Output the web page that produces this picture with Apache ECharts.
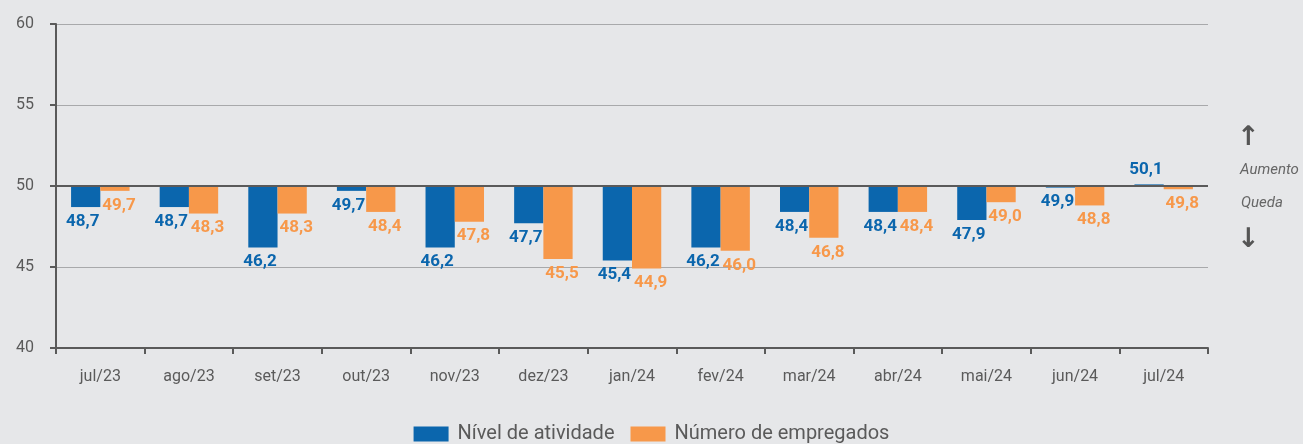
<!DOCTYPE html>
<html>
<head>
<meta charset="utf-8">
<script src="https://cdn.jsdelivr.net/npm/echarts@6/dist/echarts.min.js"></script>
<style>
  html, body { margin: 0; padding: 0; background: #e6e7e9; }
  #chart { width: 1303px; height: 444px; }
</style>
</head>
<body>
<div id="chart"></div>
<script>
const months = ['jul/23', 'ago/23', 'set/23', 'out/23', 'nov/23', 'dez/23', 'jan/24', 'fev/24', 'mar/24', 'abr/24', 'mai/24', 'jun/24', 'jul/24']
const nivelAtividade = [48.7, 48.7, 46.2, 49.7, 46.2, 47.7, 45.4, 46.2, 48.4, 48.4, 47.9, 49.9, 50.1]
const numeroEmpregados = [49.7, 48.3, 48.3, 48.4, 47.8, 45.5, 44.9, 46.0, 46.8, 48.4, 49.0, 48.8, 49.8]
const yTicks = [40, 45, 50, 55, 60]

const BASELINE = 50
const BLUE = '#0b66ad'
const ORANGE = '#f7984a'
const TEXT = '#5a5a5a'
const FONT = 'Roboto, "Noto Sans", sans-serif'

const fmt = v => v.toFixed(1).replace('.', ',')

// bars hang from the 50 line: a transparent base plus the visible part, stacked
const baseOf = values => values.map(v => Math.min(v, BASELINE))
const spanOf = values => values.map(v => Math.abs(v - BASELINE))

function visibleSeries(name, stack, values, color, dx) {
  return {
    name,
    type: 'bar',
    stack,
    barWidth: '33%',
    barGap: '0%',
    itemStyle: { color },
    data: spanOf(values).map((d, i) => ({
      value: d,
      label: {
        position: values[i] >= BASELINE ? 'top' : 'bottom'
      }
    })),
    label: {
      show: true,
      distance: 6,
      offset: [dx, 0],
      color,
      fontFamily: FONT,
      fontWeight: 'bold',
      fontSize: 17,
      formatter: p => fmt(values[p.dataIndex])
    }
  }
}

function baseSeries(stack, values) {
  return {
    type: 'bar',
    stack,
    barWidth: '33%',
    barGap: '0%',
    silent: true,
    itemStyle: { color: 'transparent' },
    data: baseOf(values)
  }
}

const chart = echarts.init(document.getElementById('chart'), undefined, { renderer: 'canvas' })

chart.setOption({
  animation: false,
  backgroundColor: '#e6e7e9',
  textStyle: { fontFamily: FONT, color: TEXT },
  grid: { left: 56, right: 95, top: 24, bottom: 96 },
  legend: {
    top: 419,
    left: 'center',
    itemWidth: 35,
    itemHeight: 15,
    itemGap: 16,
    icon: 'rect',
    data: ['Nível de atividade', 'Número de empregados'],
    textStyle: { fontSize: 20, color: TEXT, fontFamily: FONT, padding: [0, 0, 0, 4] }
  },
  xAxis: {
    type: 'category',
    data: months,
    axisLine: { lineStyle: { color: '#5a5a5a', width: 2 } },
    axisTick: { show: true, length: 6, lineStyle: { color: '#5a5a5a', width: 2 } },
    axisLabel: { color: TEXT, fontSize: 16, margin: 21, fontFamily: FONT }
  },
  yAxis: {
    type: 'value',
    min: yTicks[0],
    max: yTicks[yTicks.length - 1],
    interval: 5,
    axisLine: { show: true, lineStyle: { color: '#5a5a5a', width: 2 } },
    axisTick: { show: true, length: 6, lineStyle: { color: '#5a5a5a', width: 2 } },
    axisLabel: { color: TEXT, fontSize: 16, margin: 22, fontFamily: FONT },
    splitLine: { lineStyle: { color: '#a8a9ab', width: 1 } }
  },
  series: [
    baseSeries('nivel', nivelAtividade),
    visibleSeries('Nível de atividade', 'nivel', nivelAtividade, BLUE, -3),
    baseSeries('emp', numeroEmpregados),
    Object.assign(visibleSeries('Número de empregados', 'emp', numeroEmpregados, ORANGE, 4), {
      markLine: {
        silent: true,
        symbol: 'none',
        label: { show: false },
        lineStyle: { color: '#5a5a5a', width: 2, type: 'solid' },
        data: [{ yAxis: BASELINE }]
      }
    })
  ],
  graphic: [
    {
      type: 'text',
      left: 1237,
      top: 124,
      style: { text: '↑', fontSize: 27, fontWeight: 'bold', fill: '#555', fontFamily: 'DejaVu Sans' }
    },
    {
      type: 'text',
      left: 1240,
      top: 163,
      style: { text: 'Aumento', fontSize: 15, fontStyle: 'italic', fill: '#666', fontFamily: FONT }
    },
    {
      type: 'text',
      left: 1241,
      top: 196,
      style: { text: 'Queda', fontSize: 15, fontStyle: 'italic', fill: '#666', fontFamily: FONT }
    },
    {
      type: 'text',
      left: 1237,
      top: 226,
      style: { text: '↓', fontSize: 27, fontWeight: 'bold', fill: '#555', fontFamily: 'DejaVu Sans' }
    }
  ]
})
</script>
</body>
</html>
